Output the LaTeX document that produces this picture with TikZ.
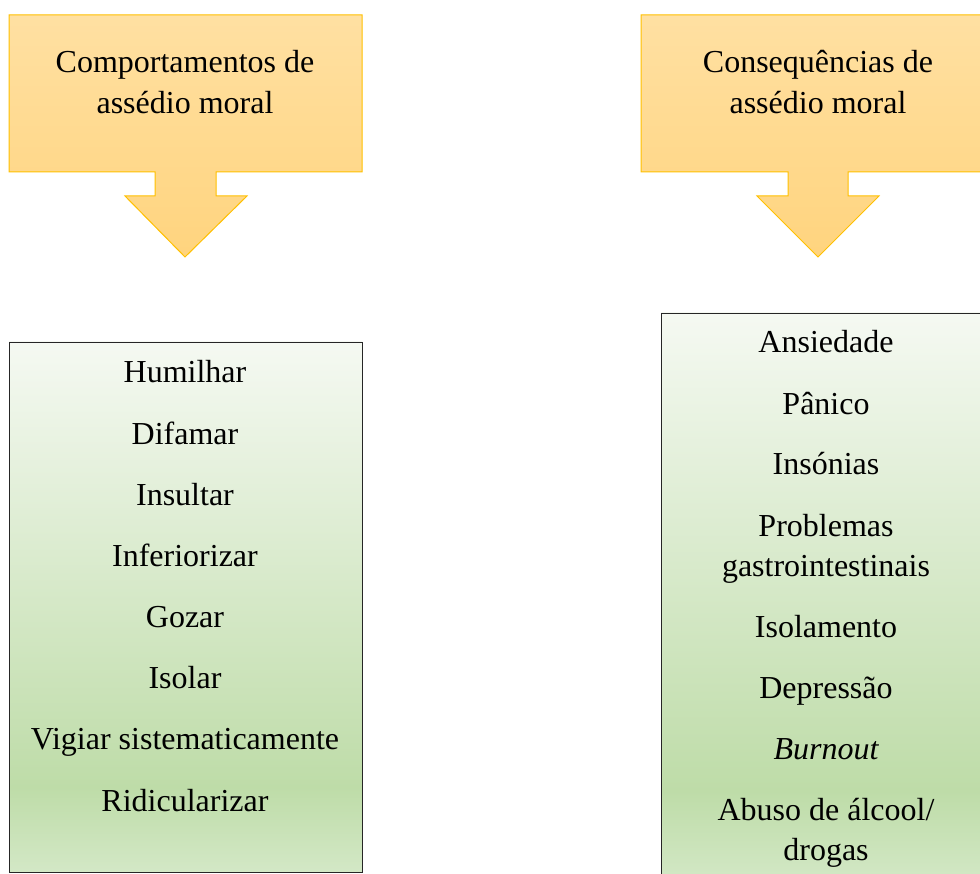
\documentclass[tikz,border=0pt]{standalone}
\usepackage{fontspec}
\setmainfont{Liberation Serif}
\definecolor{calloutline}{HTML}{FFC000}
\definecolor{callouttop}{HTML}{FFE0A2}
\definecolor{calloutbot}{HTML}{FFD47E}
\definecolor{greentop}{HTML}{F5F9F2}
\definecolor{greendeep}{HTML}{BEDCA8}
\definecolor{greenbot}{HTML}{D3E8C6}
\pgfdeclareverticalshading{greenfade}{100bp}{color(0bp)=(greenbot); color(25bp)=(greenbot); color(33bp)=(greendeep); color(75bp)=(greentop); color(100bp)=(greentop)}
\begin{document}
\begin{tikzpicture}[x=1pt, y=-1pt,
        callout/.style={draw=calloutline, line width=1pt, top color=callouttop, bottom color=calloutbot},
        listbox/.style={rectangle, draw=black!85, line width=0.9pt, shading=greenfade},
        heading/.style={align=center, font=\fontsize{32}{41}\selectfont, anchor=base, inner sep=0pt},
        item/.style={font=\fontsize{32}{40}\selectfont, anchor=base, inner sep=0pt, align=center},]

        \clip (0,0) rectangle (980,874);

        % Callouts
        \draw[callout] (9,15) -- (362,15) -- (362,172) -- (216,172) -- (216,196) -- (247,196)
            -- (185,257) -- (125,196) -- (155,196) -- (155,172) -- (9,172) -- cycle;
        \draw[callout] (641,15) -- (995,15) -- (995,172) -- (848,172) -- (848,196) -- (879,196)
            -- (818,257) -- (757,196) -- (788,196) -- (788,172) -- (641,172) -- cycle;
        % (multi-line nodes sit on the baseline of their last line)
        \node[heading] (hcomp) at (185,114) {Comportamentos de\\assédio moral};
        \node[heading] (hcons) at (818,114) {Consequências de\\assédio moral};

        % Lists
        \draw[listbox] (9,342) rectangle (362,872);
        \draw[listbox] (661,313) rectangle (992,882);

        \node[item] (c1) at (185,383) {Humilhar};
        \node[item] (c2) at (185,444) {Difamar};
        \node[item] (c3) at (185,505) {Insultar};
        \node[item] (c4) at (185,566) {Inferiorizar};
        \node[item] (c5) at (185,627) {Gozar};
        \node[item] (c6) at (185,688) {Isolar};
        \node[item] (c7) at (185,749) {Vigiar sistematicamente};
        \node[item] (c8) at (185,811) {Ridicularizar};

        \node[item] (q1) at (826,353) {Ansiedade};
        \node[item] (q2) at (826,414) {Pânico};
        \node[item] (q3) at (826,475) {Insónias};
        \node[item] (q4) at (826,576) {Problemas\\gastrointestinais};
        \node[item] (q5) at (826,637) {Isolamento};
        \node[item] (q6) at (826,698) {Depressão};
        \node[item] (q7) at (826,759) {\itshape Burnout};
        \node[item] (q8) at (826,860) {Abuso de álcool/\\drogas};
    \end{tikzpicture}
\end{document}
